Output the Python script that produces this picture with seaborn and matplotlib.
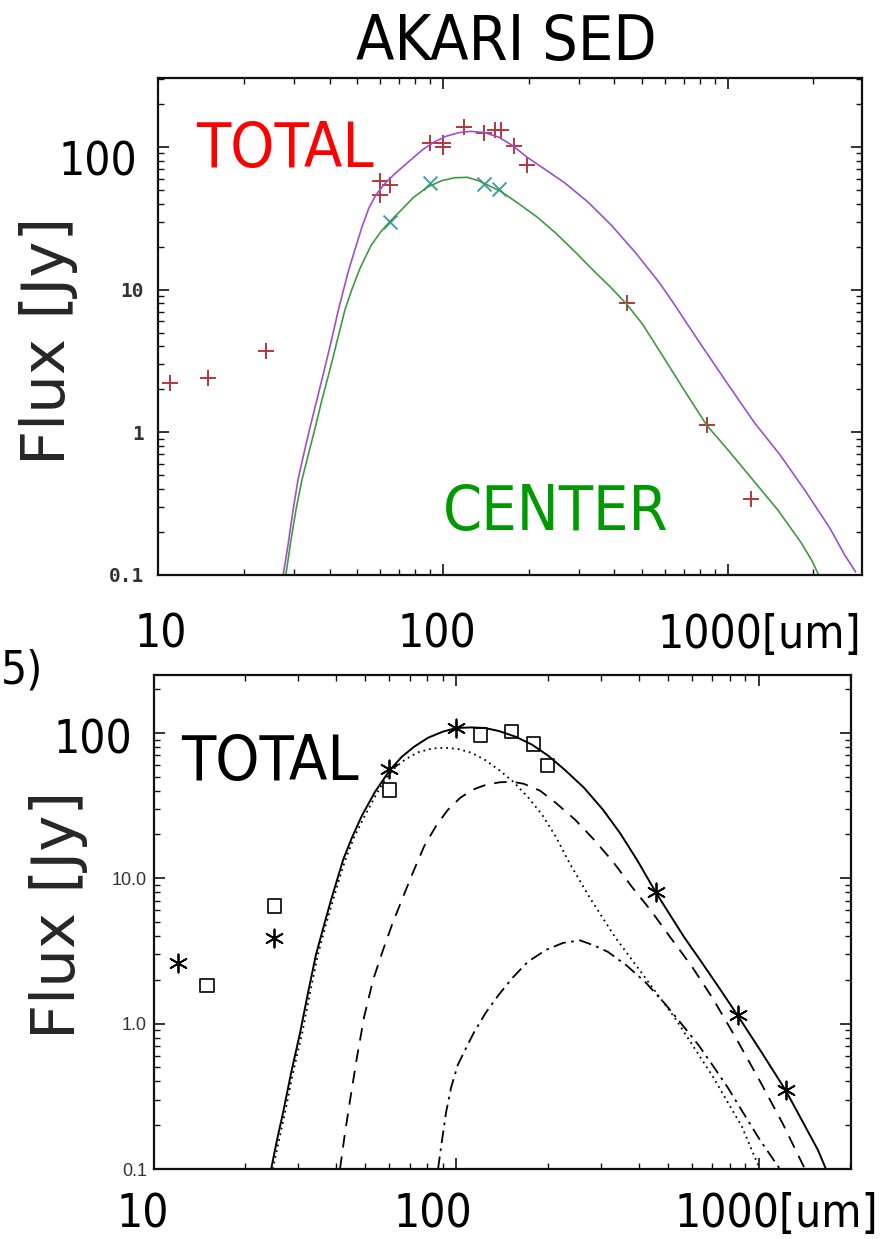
import matplotlib
matplotlib.use("Agg")
import matplotlib.pyplot as plt
from matplotlib.ticker import NullFormatter
import seaborn as sns

# ---- top panel: AKARI SED --------------------------------------------------
akari_wl = [11, 15, 24, 60, 60, 65, 90, 100, 100, 119, 139, 152, 160, 178, 198, 444, 843, 1202]
akari_flux = [2.2, 2.4, 3.7, 58, 46, 54, 107, 107, 99.5, 138, 126, 132, 132, 102, 75, 8.1, 1.12, 0.34]
center_wl = [65, 90, 140, 158]
center_flux = [30, 56, 55, 50.6]

# fitted curves
total_fit_wl = [27.5, 28.6, 29.8, 31.0, 32.3, 34.2, 36.1, 38.2, 40.5, 42.8, 44.6, 46.4, 49.1,
                52.0, 55.0, 58.2, 62.6, 67.9, 75.4, 85.1, 93.8, 103, 114, 125, 140, 157,
                176, 197, 230, 268, 323, 392, 476, 577, 646, 798, 1016, 1244, 1522, 1863,
                2280, 2574, 2812]
total_fit_flux = [0.1, 0.162, 0.286, 0.463, 0.671, 1.09, 1.68, 2.65, 4.29, 6.97, 9.62, 13.1,
                  19.0, 27.5, 37.3, 46.0, 55.5, 65.0, 78.0, 96.0, 109, 119, 126, 128.5, 126,
                  117, 102, 85.0, 68.9, 55.9, 41.1, 28.0, 18.0, 11.1, 8.0, 4.23, 2.08,
                  1.16, 0.70, 0.394, 0.214, 0.138, 0.105]
center_fit_wl = [28.1, 29.3, 30.5, 32.0, 33.6, 35.6, 37.6, 40.1, 42.8, 45.3, 47.9, 51.1,
                 55.9, 60.6, 65.2, 71.8, 79.1, 88.6, 99.2, 110, 122, 135, 146, 159, 183,
                 214, 249, 291, 339, 386, 442, 503, 577, 695, 844, 1016, 1234, 1498, 1804,
                 1971, 2086]
center_fit_flux = [0.1, 0.176, 0.286, 0.463, 0.682, 1.07, 1.68, 2.73, 4.58, 7.2, 10.0,
                   14.0, 20.3, 25.5, 30.0, 36.5, 44.5, 52.5, 58.0, 60.8, 61.2, 57.5, 53.2,
                   49.1, 40.5, 32.3, 24.9, 18.4, 13.5, 10.5, 7.9, 5.7, 3.7, 2.05, 1.12,
                   0.728, 0.456, 0.286, 0.170, 0.127, 0.1]

# ---- bottom panel: model components ------------------------------------------
star_wl = [12, 25, 60, 100, 457, 851, 1224]
star_flux = [2.6, 3.86, 56, 108, 8.0, 1.14, 0.347]
box_wl = [15, 25, 60, 120, 152, 180, 200]
box_flux = [1.83, 6.44, 40.5, 97, 102, 84, 59.5]

solid_wl = [24.4, 25.5, 26.7, 28.4, 30.4, 32.3, 34.3, 36.5, 38.5, 40.3, 42.2, 45.1, 48.7,
            53.8, 60.3, 66.0, 72.4, 80.5, 90.2, 100, 112, 124, 138, 157, 178, 201, 228,
            264, 305, 347, 395, 457, 508, 565, 638, 743, 852, 1023, 1229, 1430, 1567, 1665]
solid_flux = [0.1, 0.158, 0.243, 0.458, 0.863, 1.63, 2.97, 4.78, 7.10, 9.75, 13.4, 19.0,
              27.0, 39.3, 55.7, 68.5, 80.2, 92.5, 102, 108, 109, 108, 103, 94.0, 82.8,
              69.6, 55.7, 41.9, 29.6, 20.5, 13.4, 7.94, 5.60, 3.95, 2.75, 1.73, 1.13,
              0.629, 0.344, 0.192, 0.135, 0.1]
dotted_wl = [24.7, 25.9, 27.1, 28.8, 30.9, 32.8, 34.8, 37.0, 39.1, 40.9, 42.8, 45.8, 49.5,
             54.2, 58.5, 63.1, 67.6, 74.6, 83.0, 91.6, 101, 112, 124, 138, 154, 172, 192,
             213, 237, 276, 334, 407, 528, 705, 879, 1000]
dotted_flux = [0.1, 0.158, 0.243, 0.458, 0.863, 1.63, 2.97, 4.78, 7.10, 9.75, 13.2, 19.0,
               26.3, 37.5, 49.1, 58.5, 65.5, 73.5, 78.0, 79.0, 77.5, 73.0, 65.3, 55.7, 46.1,
               36.3, 27.3, 19.3, 12.6, 7.33, 3.95, 2.27, 1.09, 0.430, 0.195, 0.103]
dashed_wl = [41.2, 42.8, 44.5, 46.9, 49.5, 53.0, 57.2, 61.2, 65.0, 71.3, 78.1, 85.6, 93.7,
             103, 113, 125, 139, 153, 167, 189, 213, 247, 285, 329, 380, 440, 508, 601,
             705, 846, 1015, 1200, 1419]
dashed_flux = [0.1, 0.177, 0.299, 0.590, 1.11, 2.00, 3.22, 4.78, 6.56, 10.6, 16.5, 22.9,
               29.6, 35.8, 40.6, 43.9, 45.7, 46.1, 44.6, 40.0, 33.0, 25.2, 18.4, 13.0,
               8.73, 5.97, 3.95, 2.46, 1.48, 0.773, 0.391, 0.204, 0.1]
dashdot_wl = [86.9, 89.6, 92.3, 95.9, 101, 108, 114, 125, 138, 153, 172, 198, 225, 256, 287,
              317, 366, 423, 489, 565, 634, 705, 790, 879, 1008, 1173]
dashdot_flux = [0.1, 0.158, 0.243, 0.361, 0.520, 0.691, 0.863, 1.19, 1.58, 2.06, 2.66,
                3.22, 3.59, 3.74, 3.43, 3.11, 2.50, 1.91, 1.37, 0.949, 0.703, 0.512, 0.361,
                0.251, 0.158, 0.1]

W, H = 888, 1239
sns.set_style("ticks")
plt.rcParams["font.family"] = ["DejaVu Sans"]

fig = plt.figure(figsize=(W / 100, H / 100), dpi=100)


def box(left, top, right, bottom):
    return [left / W, 1 - bottom / H, (right - left) / W, (bottom - top) / H]


def ftext(x, y, s, **kw):
    fig.text(x / W, 1 - y / H, s, **kw)


def idl_axes(ax, xlim, ylim, ylabels, labfont):
    ax.set_xlim(*xlim)
    ax.set_ylim(*ylim)
    ax.set_yticks([0.1, 1, 10, 100])
    ax.set_yticklabels(ylabels, **labfont)
    ax.yaxis.set_minor_formatter(NullFormatter())
    ax.xaxis.set_major_formatter(NullFormatter())
    ax.xaxis.set_minor_formatter(NullFormatter())
    ax.tick_params(which="both", direction="in", top=True, right=True, color="#111")
    ax.tick_params(which="major", length=8, width=1.2)
    ax.tick_params(which="minor", length=4, width=1.0)
    for sp in ax.spines.values():
        sp.set_linewidth(1.6)
        sp.set_color("#111")


def curve(ax, x, y, **kw):
    sns.lineplot(x=x, y=y, estimator=None, sort=False, ax=ax, **kw)


# ---------------- top panel ----------------
ax1 = fig.add_axes(box(158, 78, 862, 575))
ax1.set_xscale("log")
ax1.set_yscale("log")
curve(ax1, total_fit_wl, total_fit_flux, color="#a04fc8", linewidth=1.2)
curve(ax1, center_fit_wl, center_fit_flux, color="#3e9a3e", linewidth=1.2)
sns.scatterplot(x=akari_wl, y=akari_flux, marker="+", s=120, color="#b3383c",
                linewidth=1.4, ax=ax1)
sns.scatterplot(x=center_wl, y=center_flux, marker="x", s=100, color="#3e9cad",
                linewidth=1.4, ax=ax1)
idl_axes(ax1, (10, 2960), (0.1, 304), ["0.1", "1", "10", ""],
         dict(family="DejaVu Sans Mono", fontweight="bold", fontsize=14, color="#333"))
ax1.tick_params(axis="y", which="major", pad=10)

# ---------------- bottom panel ----------------
ax2 = fig.add_axes(box(154, 675, 851, 1169))
ax2.set_xscale("log")
ax2.set_yscale("log")
curve(ax2, solid_wl, solid_flux, color="black", linewidth=1.4)
curve(ax2, dotted_wl, dotted_flux, color="black", linewidth=1.3, linestyle=(0, (1, 2.2)))
curve(ax2, dashed_wl, dashed_flux, color="black", linewidth=1.3, linestyle=(0, (7, 5)))
curve(ax2, dashdot_wl, dashdot_flux, color="black", linewidth=1.3,
      linestyle=(0, (7, 3, 1.5, 3)))
sns.scatterplot(x=star_wl, y=star_flux, marker=(6, 2, 0), s=170, color="black",
                linewidth=1.3, ax=ax2)
sns.scatterplot(x=box_wl, y=box_flux, marker="s", s=95, facecolor="none",
                edgecolor="black", linewidth=1.2, ax=ax2)
idl_axes(ax2, (10, 2015), (0.1, 250), ["0.1", "1.0", "10.0", ""],
         dict(family="Liberation Sans", fontsize=13, color="#333"))
ax2.tick_params(axis="y", which="major", pad=5)

# ---------------- big overlaid labels ----------------
big = dict(family="DejaVu Sans", fontstretch="condensed", color="black")
ftext(506, 60, "AKARI SED", ha="center", va="baseline", fontsize=45, **big)

ftext(137, 175, "100", ha="right", va="baseline", fontsize=33, **big)
ftext(49, 341, "Flux [Jy]", ha="center", va="center", rotation=90, fontsize=44,
      family="DejaVu Sans")
ftext(285, 167, "TOTAL", ha="center", va="baseline", fontsize=45,
      family="DejaVu Sans", fontstretch="condensed", color="#ff0000")
ftext(556, 530, "CENTER", ha="center", va="baseline", fontsize=45,
      family="DejaVu Sans", fontstretch="condensed", color="#009a00")
ftext(161, 648, "10", ha="center", va="baseline", fontsize=33, **big)
ftext(437, 648, "100", ha="center", va="baseline", fontsize=33, **big)
ftext(861, 648, "1000[um]", ha="right", va="baseline", fontsize=33, **big)

ftext(1, 683, "5)", ha="left", va="baseline", fontsize=33, **big)
ftext(132, 753, "100", ha="right", va="baseline", fontsize=33, **big)
ftext(59, 915, "Flux [Jy]", ha="center", va="center", rotation=90, fontsize=44,
      family="DejaVu Sans")
ftext(270, 780, "TOTAL", ha="center", va="baseline", fontsize=45, **big)
ftext(143, 1227, "10", ha="center", va="baseline", fontsize=33, **big)
ftext(433, 1227, "100", ha="center", va="baseline", fontsize=33, **big)
ftext(878, 1227, "1000[um]", ha="right", va="baseline", fontsize=33, **big)

fig.savefig("out.png", dpi=100)
